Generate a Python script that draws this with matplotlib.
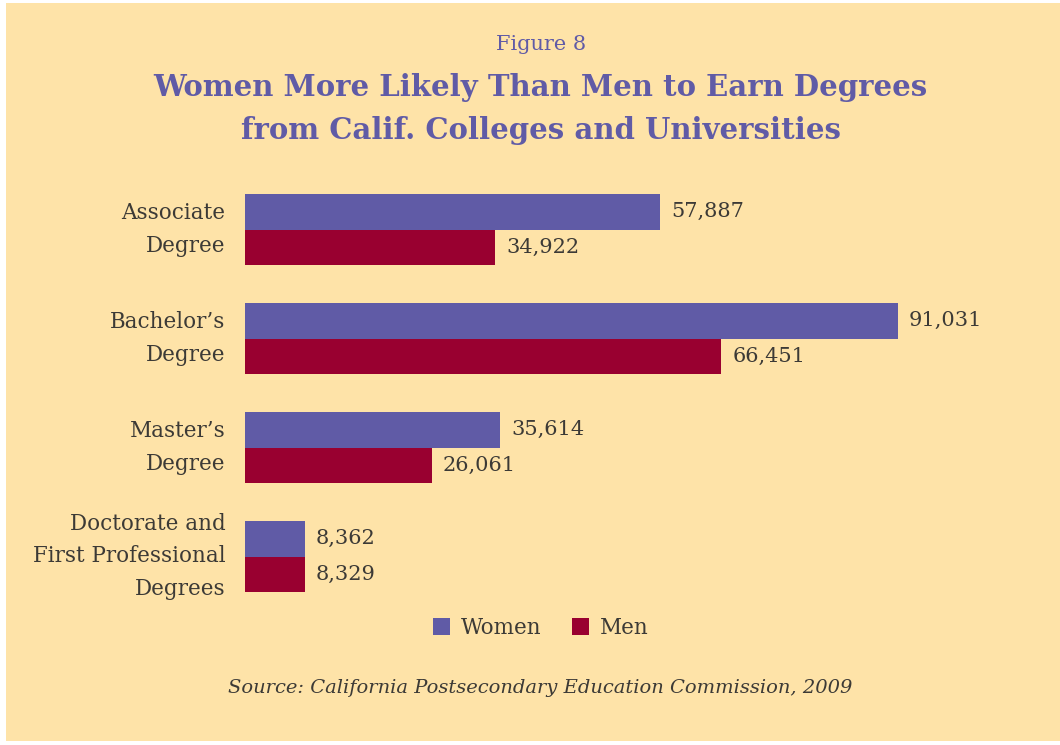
import matplotlib.pyplot as plt
from matplotlib.patches import Rectangle

# Degrees conferred by California colleges and universities, 2009
categories = ["Associate\nDegree", "Bachelor\u2019s\nDegree", "Master\u2019s\nDegree",
              "Doctorate and\nFirst Professional\nDegrees"]
women = [57887, 91031, 35614, 8362]
men = [34922, 66451, 26061, 8329]

BG = "#FEE3A8"
PURPLE = "#605BA6"
CRIMSON = "#990030"
TEXT = "#3C3A36"

W, H = 1060, 745
fig = plt.figure(figsize=(W / 100, H / 100), dpi=100, facecolor="white")
fig.patches.append(Rectangle((6 / W, 4 / H), 1 - 6 / W, 1 - 7 / H,
                             transform=fig.transFigure, facecolor=BG,
                             edgecolor="none", zorder=-1))

# axes placed in pixel terms: bars start at x=245
left, right, top, bottom = 245, 962, 185, 600
ax = fig.add_axes([left / W, 1 - bottom / H, (right - left) / W, (bottom - top) / H])
ax.set_facecolor("none")

bar_h = 0.325
y = list(range(len(categories)))
ax.barh([v - bar_h / 2 for v in y], women, height=bar_h, color=PURPLE, label="Women")
ax.barh([v + bar_h / 2 for v in y], men, height=bar_h, color=CRIMSON, label="Men")

ax.set_xlim(0, 100000)
ax.set_ylim(3 + 43.5 / 109, -44.5 / 109)
ax.axis("off")

fmt = dict(family="DejaVu Serif", fontsize=15, color=TEXT, va="center")
for i in y:
    ax.annotate(f"{women[i]:,}", (women[i], i - bar_h / 2), xytext=(8, 0),
                textcoords="offset points", ha="left", **fmt)
    ax.annotate(f"{men[i]:,}", (men[i], i + bar_h / 2), xytext=(8, 0),
                textcoords="offset points", ha="left", **fmt)
    ax.annotate(categories[i], (0, i), xytext=(-14, 0), textcoords="offset points",
                ha="right", linespacing=1.6, family="DejaVu Serif", fontsize=15.5,
                color=TEXT, va="center")

fig.text(0.51, 1 - 45 / H, "Figure 8", ha="center", va="center",
         family="DejaVu Serif", fontsize=15, color=PURPLE)
fig.text(0.51, 1 - 109 / H, "Women More Likely Than Men to Earn Degrees\nfrom Calif. Colleges and Universities",
         ha="center", va="center", family="DejaVu Serif", fontweight="bold",
         fontsize=21, color=PURPLE, linespacing=1.6)

leg = fig.legend(loc="center", bbox_to_anchor=(0.51, 1 - 628 / H), ncol=2,
                 frameon=False, handlelength=0.8, handleheight=0.8,
                 handletextpad=0.5, columnspacing=1.4,
                 prop=dict(family="DejaVu Serif", size=15.5))
for t in leg.get_texts():
    t.set_color(TEXT)

fig.text(0.51, 1 - 688 / H, "Source: California Postsecondary Education Commission, 2009",
         ha="center", va="center", family="DejaVu Serif", style="italic",
         fontsize=14, color=TEXT)

fig.savefig("out.png", dpi=100, facecolor=fig.get_facecolor())
